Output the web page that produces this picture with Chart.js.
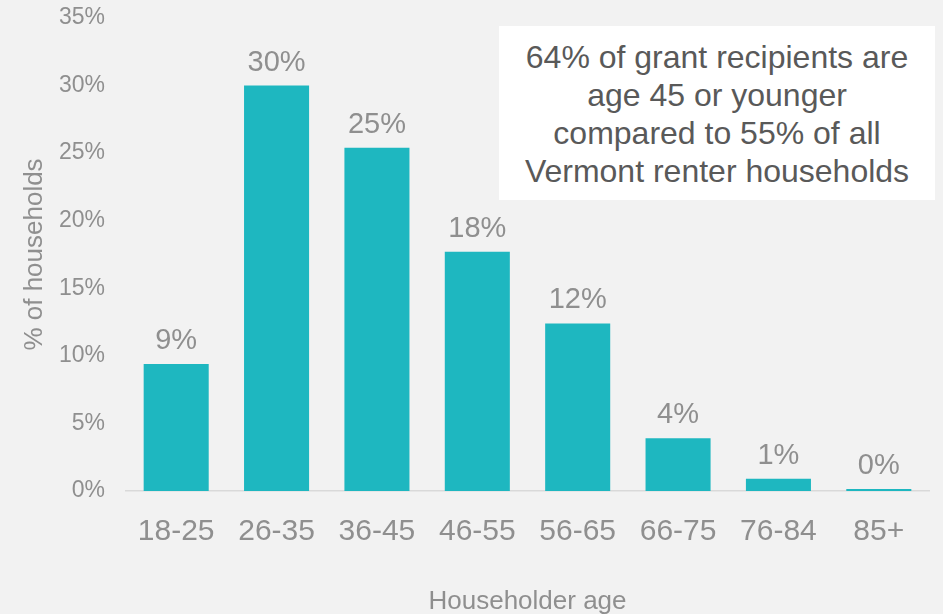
<!DOCTYPE html>
<html>
<head>
<meta charset="utf-8">
<script src="https://cdn.jsdelivr.net/npm/chart.js@4"></script>
<style>
  body { margin: 0; background: #f2f2f2; }
  #wrap { position: relative; width: 943px; height: 614px; }
  #note {
    position: absolute; left: 499px; top: 26px; width: 436px; height: 174px;
    box-sizing: border-box; padding-top: 12px; background: #fff;
    font-family: "Liberation Sans", Arial, sans-serif; font-size: 32px; line-height: 38px;
    color: #595959; text-align: center;
  }
</style>
</head>
<body>
<div id="wrap">
  <canvas id="ageChart"></canvas>
  <div id="note">64% of grant recipients are<br>age 45 or younger<br>compared to 55% of all<br>Vermont renter households</div>
</div>
<script>
const ageGroups = ['18-25', '26-35', '36-45', '46-55', '56-65', '66-75', '76-84', '85+'];
const shareOfHouseholds = [9.4, 30.0, 25.4, 17.7, 12.4, 3.9, 0.9, 0.15];
const yTicks = [0, 5, 10, 15, 20, 25, 30, 35];

const fontFamily = '"Liberation Sans", Arial, sans-serif';
const grey = '#8f8f8f';

// simple value labels above each bar
const barLabels = {
    id: 'barLabels',
    afterDatasetsDraw(chart) {
        const ctx = chart.ctx;
        const meta = chart.getDatasetMeta(0);
        ctx.save();
        ctx.font = '29px ' + fontFamily;
        ctx.fillStyle = grey;
        ctx.textAlign = 'center';
        ctx.textBaseline = 'alphabetic';
        meta.data.forEach((bar, i) => {
            const v = chart.data.datasets[0].data[i];
            ctx.fillText(Math.round(v) + '%', bar.x, bar.y - 15);
        });
        ctx.restore();
    }
};

const ctx = document.getElementById('ageChart').getContext('2d');
const ageChart = new Chart(ctx, {
    type: 'bar',
    data: {
        labels: ageGroups,
        datasets: [{
            data: shareOfHouseholds,
            backgroundColor: '#1eb7c0',
            barPercentage: 0.648,
            categoryPercentage: 1
        }]
    },
    options: {
        responsive: true,
        maintainAspectRatio: false,
        animation: false,
        layout: { padding: { top: 18, right: 14, bottom: 0, left: 0 } },
        plugins: { legend: { display: false }, tooltip: { enabled: false } },
        scales: {
            x: {
                grid: { display: false, drawTicks: false },
                border: { display: true, color: '#d9d9d9', width: 1.5 },
                ticks: { color: grey, font: { family: fontFamily, size: 30 }, padding: 23, maxRotation: 0 },
                title: { display: true, text: 'Householder age', color: grey,
                         font: { family: fontFamily, size: 26 }, padding: { top: 0, bottom: -3 } },
                afterFit(scale) { scale.height = 123; }
            },
            y: {
                min: 0,
                max: 35,
                grid: { display: false, drawTicks: false },
                border: { display: false },
                afterBuildTicks(scale) { scale.ticks = yTicks.map(v => ({ value: v })); },
                ticks: { color: grey, font: { family: fontFamily, size: 23 }, padding: 21,
                         callback: v => v + '%' },
                title: { display: true, text: '% of households', color: grey,
                         font: { family: fontFamily, size: 26 }, padding: { top: 19, bottom: 0 } },
                afterFit(scale) {
                    scale.width = 126;
                    scale.paddingTop = 0;
                    scale.paddingBottom = 0;
                }
            }
        }
    },
    plugins: [barLabels]
});
</script>
</body>
</html>
